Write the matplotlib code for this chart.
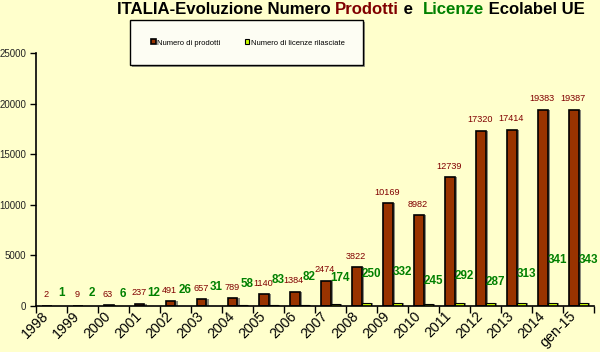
import matplotlib
matplotlib.use("Agg")
import matplotlib.pyplot as plt
from matplotlib.patches import Rectangle
import numpy as np

plt.rcParams['font.family'] = ['Liberation Sans', 'DejaVu Sans']

# ---- data ----
categories = ['1998', '1999', '2000', '2001', '2002', '2003', '2004', '2005', '2006',
              '2007', '2008', '2009', '2010', '2011', '2012', '2013', '2014', 'gen-15']
prodotti = [2, 9, 63, 237, 491, 657, 789, 1140, 1384, 2474, 3822, 10169, 8982,
            12739, 17320, 17414, 19383, 19387]
licenze = [1, 2, 6, 12, 26, 31, 58, 83, 82, 174, 250, 332, 245, 292, 287, 313, 341, 343]
series_names = ['Numero di prodotti', 'Numero di licenze rilasciate']
yticks = [0, 5000, 10000, 15000, 20000, 25000]

# label placement (style): pixel rise of the green labels above the axis
lic_label_rise_px = [13, 13, 12, 13, 16, 19, 22, 26, 29, 28, 32, 34, 25, 30, 24, 32, 46, 46]

BG = '#FFFFCC'
RED = '#993300'
GREEN = '#CCFF00'
DARKRED = '#800000'
DKGREEN = '#008000'

W, H = 600, 352
fig = plt.figure(figsize=(W / 100, H / 100), dpi=100, facecolor=BG)
ax = fig.add_axes([36 / W, 1 - 306 / H, 558 / W, 253 / H])
ax.set_facecolor(BG)

x = np.arange(len(categories))
bw = 0.3
# 3D-ish shadows
ax.bar(x - bw / 2 + 0.08, prodotti, bw, color='#8a8a7a', zorder=1, linewidth=0)
ax.bar(x + bw / 2 + 0.08, licenze, bw, color='#8a8a7a', zorder=1, linewidth=0)
b1 = ax.bar(x - bw / 2, prodotti, bw, color=RED, edgecolor='black', linewidth=1.2,
            zorder=2, label=series_names[0])
b2 = ax.bar(x + bw / 2, licenze, bw, color=GREEN, edgecolor='black', linewidth=0.8,
            zorder=2, label=series_names[1])

for xi, v in zip(x, prodotti):
    ax.annotate(str(v), (xi - bw / 2, v), xytext=(-1, 11), textcoords='offset pixels',
                ha='center', va='center', fontsize=6.6, color=DARKRED, zorder=5)
for xi, v, r in zip(x, licenze, lic_label_rise_px):
    ax.annotate(str(v), (xi + bw / 2, 0), xytext=(5, r), textcoords='offset pixels',
                ha='center', va='center', fontsize=8.4, fontweight='bold',
                color=DKGREEN, zorder=5, annotation_clip=False)

ax.set_xlim(-0.5, len(categories) - 0.5)
ax.set_ylim(0, 25000)
ax.set_yticks(yticks)
ax.set_yticklabels([str(t) for t in yticks], fontsize=7, color='#222222')
ax.tick_params(axis='y', direction='out', length=4, width=1, pad=3)
ax.set_xticks(x)
ax.set_xticklabels(categories, rotation=45, ha='right', va='top', fontsize=10.2,
                   color='black')
ax.set_xticks(np.arange(len(categories) + 1) - 0.5, minor=True)
ax.tick_params(axis='x', which='major', length=0, pad=2)
ax.tick_params(axis='x', which='minor', direction='out', length=5, width=1)
for s in ['top', 'right']:
    ax.spines[s].set_visible(False)
for s in ['left', 'bottom']:
    ax.spines[s].set_color('black')
    ax.spines[s].set_linewidth(1.2)

# legend box
lx0, lx1, ly0, ly1 = 130, 363, 20, 65
fig.patches.append(Rectangle(((lx0 + 2) / W, 1 - (ly1 + 2) / H), (lx1 - lx0) / W,
                             (ly1 - ly0) / H, transform=fig.transFigure,
                             facecolor='#9a9a8a', edgecolor='none', zorder=0))
fig.patches.append(Rectangle((lx0 / W, 1 - ly1 / H), (lx1 - lx0) / W, (ly1 - ly0) / H,
                             transform=fig.transFigure, facecolor='#FDFDF3',
                             edgecolor='black', linewidth=1, zorder=1))
leg = fig.legend(handles=[b1, b2], loc='center', bbox_to_anchor=(248 / W, 1 - 43 / H),
                 ncol=2, frameon=False, fontsize=5.5, handlelength=0.6,
                 handleheight=0.6, handletextpad=0.2, columnspacing=3.2)
leg.set_zorder(3)

# title in colored pieces
pieces = [('ITALIA-Evoluzione Numero ', 'black'), ('Prodotti', DARKRED),
          (' e  ', 'black'), ('Licenze', DKGREEN), (' Ecolabel UE', 'black')]
fig.canvas.draw()
renderer = fig.canvas.get_renderer()
xpos = 117 / W
for txt, col in pieces:
    t = fig.text(xpos, 1 - 14 / H, txt, color=col, fontsize=12.1, fontweight='bold',
                 ha='left', va='baseline')
    bb = t.get_window_extent(renderer=renderer)
    xpos += bb.width / W

fig.savefig('out.png', dpi=100, facecolor=BG)
